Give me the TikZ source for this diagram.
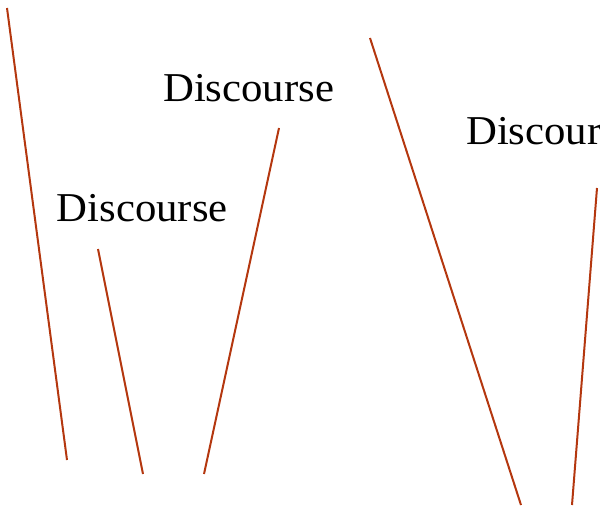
\documentclass[tikz,border=0pt]{standalone}
\usepackage{fontspec}
\setmainfont{Liberation Serif}
\definecolor{edgecol}{RGB}{180,55,15}
\newcommand{\wordtxt}[1]{\scalebox{1.043}[1]{#1}}
\begin{document}
\begin{tikzpicture}[x=1pt,y=-1pt,
  lbl/.style={anchor=base west,inner sep=0pt,font=\fontsize{41}{48}\selectfont},
  edge/.style={draw=edgecol,line width=2pt}]
\useasboundingbox (0,0) rectangle (600,508);
\node[lbl] (t1) at (163,101.5) {\wordtxt{Discourse}};
\node[lbl] (t2) at (56.5,222) {\wordtxt{Discourse}};
\node[lbl] (t3) at (466,145) {\wordtxt{Discourse}};
\coordinate (a1) at (7,8);
\coordinate (a2) at (67,460);
\coordinate (b1) at (98,249);
\coordinate (b2) at (143,474);
\coordinate (c1) at (279,128);
\coordinate (c2) at (204,474);
\coordinate (d1) at (370,38);
\coordinate (d2) at (521,505);
\coordinate (e1) at (597,188);
\coordinate (e2) at (572,505);
\draw[edge] (a1) -- (a2);
\draw[edge] (b1) -- (b2);
\draw[edge] (c1) -- (c2);
\draw[edge] (d1) -- (d2);
\draw[edge] (e1) -- (e2);
\end{tikzpicture}
\end{document}
